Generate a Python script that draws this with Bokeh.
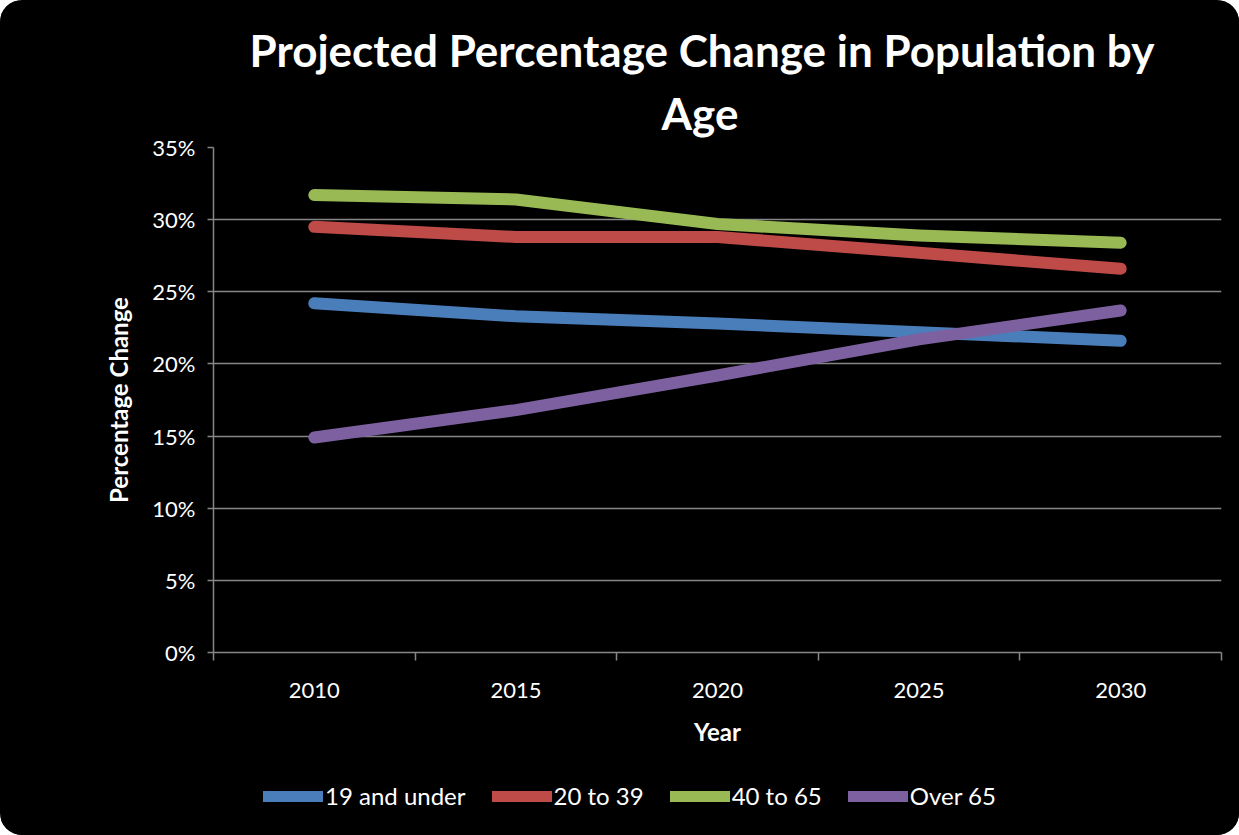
from bokeh.plotting import figure
from bokeh.layouts import column
from bokeh.models import (FixedTicker, NumeralTickFormatter, Legend, LegendItem,
                          Range1d, Title)
from bokeh.embed import file_html
from bokeh.resources import INLINE

years = ["2010", "2015", "2020", "2025", "2030"]
under_19 = [0.242, 0.233, 0.228, 0.222, 0.216]
age_20_39 = [0.295, 0.288, 0.288, 0.277, 0.266]
age_40_65 = [0.317, 0.314, 0.297, 0.289, 0.284]
over_65 = [0.149, 0.168, 0.192, 0.217, 0.237]
series_names = ["19 and under", "20 to 39", "40 to 65", "Over 65"]
colors = ["#4a7ebb", "#be4b48", "#98b954", "#7d60a0"]
y_ticks = [0, 0.05, 0.10, 0.15, 0.20, 0.25, 0.30, 0.35]
title_lines = ["Projected Percentage Change in Population by", "Age"]

FONT = "Lato"
xs = [i + 0.5 for i in range(len(years))]
series = [under_19, age_20_39, age_40_65, over_65]

p = figure(frame_width=1008, frame_height=505, output_backend="svg",
           toolbar_location=None,
           x_range=Range1d(0, len(years)), y_range=Range1d(0, 0.35),
           min_border_left=213, min_border_right=18,
           min_border_top=147, min_border_bottom=108)

p.background_fill_color = "black"
p.border_fill_color = "black"
p.outline_line_color = None

# second line first (closest to plot), then first line
p.add_layout(Title(text=title_lines[1], align="left", offset=448,
                   text_color="white", text_font=FONT, text_font_size="44px",
                   text_font_style="bold", standoff=18), "above")
p.add_layout(Title(text=title_lines[0], align="left", offset=36,
                   text_color="white", text_font=FONT, text_font_size="44px",
                   text_font_style="bold", standoff=0), "above")

# y axis
p.yaxis.ticker = FixedTicker(ticks=y_ticks)
p.yaxis.formatter = NumeralTickFormatter(format="0%")
p.yaxis.axis_line_color = "#868686"
p.yaxis.axis_line_width = 1.5
p.yaxis.major_tick_line_color = "#868686"
p.yaxis.major_tick_line_width = 1.5
p.yaxis.major_tick_out = 6
p.yaxis.major_tick_in = 0
p.yaxis.minor_tick_line_color = None
p.yaxis.major_label_text_color = "white"
p.yaxis.major_label_text_font = FONT
p.yaxis.major_label_text_font_size = "22px"
p.yaxis.major_label_standoff = 12
p.yaxis.axis_label = "Percentage Change"
p.yaxis.axis_label_text_color = "white"
p.yaxis.axis_label_text_font = FONT
p.yaxis.axis_label_text_font_size = "24px"
p.yaxis.axis_label_text_font_style = "bold"
p.yaxis.axis_label_standoff = 16

# x axis
p.xaxis.ticker = FixedTicker(ticks=xs, minor_ticks=list(range(len(years) + 1)))
p.xaxis.major_label_overrides = {x: y for x, y in zip(xs, years)}
p.xaxis.axis_line_color = "#868686"
p.xaxis.axis_line_width = 1.5
p.xaxis.major_tick_line_color = None
p.xaxis.minor_tick_line_color = "#868686"
p.xaxis.minor_tick_line_width = 1.5
p.xaxis.minor_tick_out = 8
p.xaxis.minor_tick_in = 0
p.xaxis.major_label_text_color = "white"
p.xaxis.major_label_text_font = FONT
p.xaxis.major_label_text_font_size = "22px"
p.xaxis.major_label_standoff = 22
p.xaxis.axis_label = "Year"
p.xaxis.axis_label_text_color = "white"
p.xaxis.axis_label_text_font = FONT
p.xaxis.axis_label_text_font_size = "24px"
p.xaxis.axis_label_text_font_style = "bold"
p.xaxis.axis_label_standoff = 16

p.xgrid.grid_line_color = None
p.ygrid.ticker = FixedTicker(ticks=y_ticks)
p.ygrid.grid_line_color = "#868686"
p.ygrid.grid_line_width = 1.5

for vals, c in zip(series, colors):
    p.line(xs, vals, line_color=c, line_width=12, line_cap="round",
           line_join="round")

# legend strip below the chart (its own lines lie outside its view)
leg = figure(width=1239, height=75, output_backend="svg", toolbar_location=None,
             x_range=Range1d(100, 101), y_range=Range1d(0, 1),
             min_border_left=0, min_border_right=0,
             min_border_top=0, min_border_bottom=0)
leg.background_fill_color = "black"
leg.border_fill_color = "black"
leg.outline_line_color = None
leg.axis.visible = False
leg.grid.visible = False

items = []
for name, vals, c in zip(series_names, series, colors):
    r = leg.line(xs, vals, line_color=c, line_width=11, line_cap="round")
    items.append(LegendItem(label=name, renderers=[r]))

legend = Legend(items=items, orientation="horizontal", location=(50, 25),
                background_fill_alpha=0, border_line_color=None,
                label_text_color="white", label_text_font=FONT,
                label_text_font_size="24px", glyph_width=60, glyph_height=20,
                label_standoff=2, spacing=26, margin=0, padding=0)
leg.add_layout(legend, "center")

layout = column(p, leg, spacing=0)
layout.styles = {"border-radius": "22px", "overflow": "hidden",
                 "background-color": "black"}

open("out.html", "w").write(file_html(layout, INLINE))
